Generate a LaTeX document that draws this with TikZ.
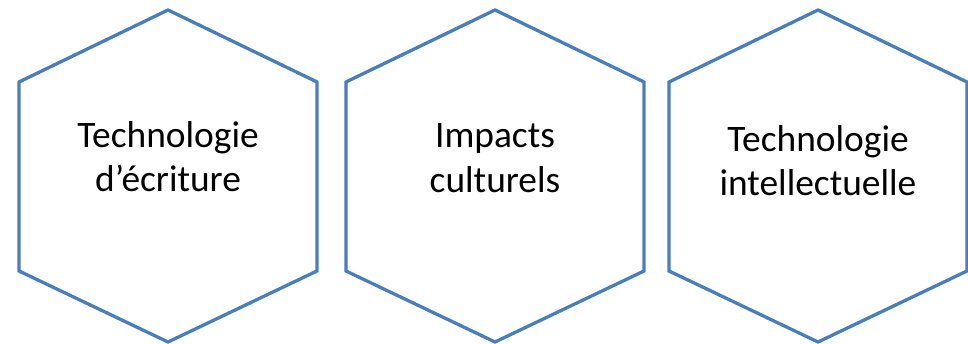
\documentclass[tikz,border=0pt]{standalone}
\usepackage{fontspec}
\setmainfont{Carlito}
\definecolor{hexblue}{HTML}{4A7EBB}

\begin{document}
\begin{tikzpicture}[
    x=1pt, y=1pt,
    hexa/.style={draw=hexblue, line width=3.3pt, line join=miter},
    txt/.style={font=\fontsize{37.4}{44.8}\selectfont, align=center, inner sep=0pt}
]
  \useasboundingbox (0,0) rectangle (968,344);
  % ===== trois hexagones =====
  \foreach \x/\y/\n/\t in {168/187.3/ecriture/{Technologie\\d'écriture},
                           495/185.8/impacts/{Impacts\\culturels},
                           818/183.3/intellect/{Technologie\\intellectuelle}} {
    \draw[hexa] (\x,334) -- (\x+149,262) -- (\x+149,73) -- (\x,2)
                -- (\x-149,73) -- (\x-149,262) -- cycle;
    \node[txt] (\n) at (\x,\y) {\t};
  }
\end{tikzpicture}
\end{document}
